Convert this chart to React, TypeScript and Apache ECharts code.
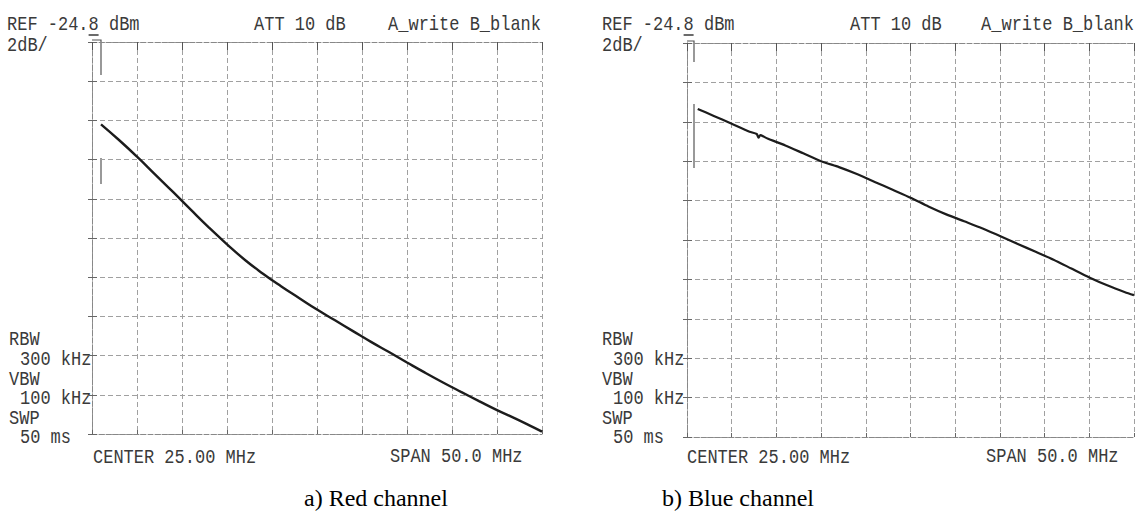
import React, { useEffect, useRef } from "react";
import * as echarts from "echarts";

// Frequency (MHz) and level (dBm)
const redFreq = [1, 3, 5, 7, 9, 11, 13, 15, 17, 19, 21, 23, 25, 27, 29, 31, 33, 35, 37, 39, 41, 43, 45, 47, 49, 50];
const redLevel = [-29.0, -29.8, -30.65, -31.55, -32.45, -33.37, -34.27, -35.12, -35.92, -36.62, -37.26, -37.86, -38.45, -39.0, -39.55, -40.1, -40.62, -41.15, -41.67, -42.17, -42.65, -43.12, -43.58, -44.0, -44.45, -44.68];

const blueFreq = [1.2, 3, 5, 7, 7.8, 8.0, 8.2, 9, 11, 13, 15, 17, 19, 21, 23, 25, 27, 29, 31, 33, 35, 37, 39, 41, 43, 45, 47, 49, 50];
const blueLevel = [-28.15, -28.5, -28.9, -29.3, -29.42, -29.6, -29.48, -29.65, -30.0, -30.4, -30.8, -31.1, -31.45, -31.85, -32.25, -32.65, -33.1, -33.5, -33.85, -34.2, -34.6, -35.0, -35.4, -35.8, -36.25, -36.7, -37.1, -37.45, -37.6];

// Analyzer settings
const refLevel = -24.8;
const dbPerDiv = 2;
const divisions = 10;
const spanMHz = 50;
const freqStep = 5;

const headerLeft = "REF -24.8 dBm";
const scaleText = "2dB/";
const attText = "ATT 10 dB";
const modeText = "A_write B_blank";
const sideLabels = ["RBW", "300 kHz", "VBW", "100 kHz", "SWP", "50 ms"];
const centerText = "CENTER 25.00 MHz";
const spanText = "SPAN 50.0 MHz";
const captions = ["a) Red channel", "b) Blue channel"];

const MONO = "'Liberation Mono', 'DejaVu Sans Mono', monospace";
const SERIF = "'Liberation Serif', 'DejaVu Serif', serif";
const INK = "#3a3a3a";
const GRIDC = "#a0a0a0";

export default function App() {
  const ref = useRef<HTMLDivElement>(null);

  useEffect(() => {
    document.body.style.margin = "0";
    const chart = echarts.init(ref.current!, null, { renderer: "svg" });

    const grids = [
      { left: 92, top: 42, width: 450, height: 392 },
      { left: 687, top: 43, width: 447, height: 394 },
    ];
    const yMin = refLevel - dbPerDiv * divisions;

    const dashed = { color: GRIDC, type: [5, 3] as any, width: 1 };
    const border = { show: true, lineStyle: { color: "#888", type: [5, 2] as any, width: 1 } };

    const xAxes: any[] = [];
    const yAxes: any[] = [];
    grids.forEach((_, gi) => {
      xAxes.push({
        gridIndex: gi, type: "value", min: 0, max: spanMHz, interval: freqStep,
        axisLabel: { show: false },
        axisLine: border,
        axisTick: { show: true, inside: true, length: 4, lineStyle: { color: "#666" } },
        splitLine: { show: true, lineStyle: dashed },
      });
      xAxes.push({
        gridIndex: gi, type: "value", position: "top", min: 0, max: spanMHz, interval: freqStep,
        axisLabel: { show: false },
        axisLine: border,
        axisTick: { show: true, inside: true, length: 8, lineStyle: { color: "#555" } },
        splitLine: { show: false },
      });
      yAxes.push({
        gridIndex: gi, type: "value", min: yMin, max: refLevel, interval: dbPerDiv,
        axisLabel: { show: false },
        axisLine: border,
        axisTick: { show: true, inside: true, length: 5, lineStyle: { color: "#666" } },
        splitLine: { show: true, lineStyle: dashed },
      });
      yAxes.push({
        gridIndex: gi, type: "value", position: "right", min: yMin, max: refLevel, interval: dbPerDiv,
        axisLabel: { show: false },
        axisLine: border,
        axisTick: { show: true, inside: true, length: 4, lineStyle: { color: "#666" } },
        splitLine: { show: false },
      });
    });

    const mono = (x: number, y: number, text: string, align = "left") => ({
      type: "text", x, y, scaleY: 1.18, silent: true,
      style: { text, fill: INK, font: `17px ${MONO}`, textAlign: align, textVerticalAlign: "middle" },
    });
    const serif = (x: number, y: number, text: string) => ({
      type: "text", x, y, silent: true,
      style: { text, fill: "#000", font: `24px ${SERIF}`, textAlign: "left", textVerticalAlign: "middle" },
    });

    const graphics: any[] = [];
    const refX = [7, 602];
    const attX = [254, 850];
    const modeRight = [541, 1134];
    const sideX = [9, 602];
    const centerX = [93, 687];
    const spanX = [390, 986];
    const capX = [304, 662];
    const charW = 10.2;
    [0, 1].forEach((i) => {
      graphics.push(mono(refX[i], 25, headerLeft));
      graphics.push(mono(refX[i], 46, scaleText));
      graphics.push(mono(attX[i], 25, attText));
      graphics.push(mono(modeRight[i], 25, modeText, "right"));
      const ys = [340, 360, 380, 399, 419, 438];
      sideLabels.forEach((s, k) => {
        graphics.push(mono(sideX[i] + (k % 2 === 1 ? 11 : 0), ys[k], s));
      });
      graphics.push(mono(centerX[i], 458, centerText));
      graphics.push(mono(spanX[i], 457, spanText));
      graphics.push(serif(capX[i], 498, captions[i]));
      // underline under the reference digit
      const ux = refX[i] + charW * 8;
      graphics.push({ type: "line", silent: true, shape: { x1: ux, y1: 35, x2: ux + 10, y2: 35 }, style: { stroke: INK, lineWidth: 1.5 } });
    });
    // reference-level bracket markers
    graphics.push({ type: "polyline", silent: true, shape: { points: [[92, 40], [101, 40], [101, 75]] }, style: { stroke: "#555", lineWidth: 1.2, fill: null } });
    graphics.push({ type: "line", silent: true, shape: { x1: 101, y1: 158, x2: 101, y2: 184 }, style: { stroke: "#555", lineWidth: 1.2 } });
    graphics.push({ type: "polyline", silent: true, shape: { points: [[687, 41], [694, 41], [694, 62]] }, style: { stroke: "#555", lineWidth: 1.2, fill: null } });
    graphics.push({ type: "line", silent: true, shape: { x1: 694, y1: 104, x2: 694, y2: 168 }, style: { stroke: "#555", lineWidth: 1.2 } });

    const option: any = {
      animation: false,
      backgroundColor: "#fff",
      grid: grids,
      xAxis: xAxes,
      yAxis: yAxes,
      series: [
        {
          type: "line", name: "Red channel", xAxisIndex: 0, yAxisIndex: 0,
          data: redFreq.map((f, i) => [f, redLevel[i]]),
          showSymbol: false, smooth: 0.5,
          lineStyle: { color: "#1c1c1c", width: 2.4 },
        },
        {
          type: "line", name: "Blue channel", xAxisIndex: 2, yAxisIndex: 2,
          data: blueFreq.map((f, i) => [f, blueLevel[i]]),
          showSymbol: false, smooth: 0.2,
          lineStyle: { color: "#1c1c1c", width: 2.2 },
        },
      ],
      graphic: graphics,
    };
    chart.setOption(option);
    return () => chart.dispose();
  }, []);

  return <div ref={ref} style={{ width: 1137, height: 511 }} />;
}
